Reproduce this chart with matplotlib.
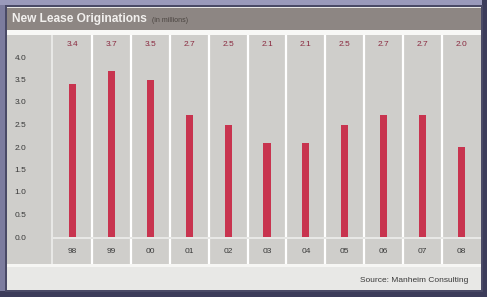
import matplotlib
matplotlib.use("Agg")
import matplotlib.pyplot as plt
from matplotlib.patches import Rectangle

years = ['98', '99', '00', '01', '02', '03', '04', '05', '06', '07', '08']
values = [3.4, 3.7, 3.5, 2.7, 2.5, 2.1, 2.1, 2.5, 2.7, 2.7, 2.0]
yticks = [0.0, 0.5, 1.0, 1.5, 2.0, 2.5, 3.0, 3.5, 4.0]
title = "New Lease Originations"
subtitle = "(in millions)"
source = "Source: Manheim Consulting"

W, H = 487, 297
fig = plt.figure(figsize=(W / 100, H / 100), dpi=100)
fig.patch.set_facecolor('#7c7c9e')
FONT = ['Liberation Sans Narrow', 'Liberation Sans', 'DejaVu Sans']

def rect(x0, y0, x1, y1, color, z=0):
    fig.patches.append(Rectangle((x0 / W, 1 - y1 / H), (x1 - x0) / W, (y1 - y0) / H,
                                 transform=fig.transFigure, facecolor=color,
                                 edgecolor='none', zorder=z))

def axes_px(x0, y0, x1, y1):
    a = fig.add_axes([x0 / W, 1 - y1 / H, (x1 - x0) / W, (y1 - y0) / H])
    a.set_zorder(10)
    return a

# frame
rect(0, 0, 487, 5, '#9a9abb')
rect(482, 0, 487, 297, '#3c3c5a')
rect(0, 291, 487, 297, '#3c3c5a')
rect(5, 5, 483, 292, '#4a4a66')
rect(7, 7, 481, 290, '#e8e8e6')
rect(7, 264, 481, 267, '#f6f6f4')
# header
rect(7, 8, 481, 30, '#8d8683')
rect(7, 30, 481, 35, '#f8f8f6')
# left cell
rect(7, 35, 51, 264, '#cfcecb')

fig.text(12 / W, 1 - 19 / H, title, family=FONT, weight='bold', fontsize=8.6,
         color='#f2f0ee', va='center', ha='left')
fig.text(152 / W, 1 - 20 / H, subtitle, family=FONT, fontsize=5,
         color='#4a4440', va='center', ha='left')
fig.text(468 / W, 1 - 281 / H, source, family=FONT, fontsize=6,
         color='#3a3a3a', va='center', ha='right')

n = len(years)
ymax = (237 - 35) / 45.0

ax = axes_px(53, 35, 481, 237)
ax.set_facecolor('#cfcecb')
ax.bar(range(n), values, width=0.18, color='#c8344f', zorder=3)
for i, v in enumerate(values):
    ax.text(i, (237 - 44) / 45.0, f"{v:.1f}", ha='center', va='center',
            family=FONT, fontsize=6, color='#8a2a40')
for k in range(1, n):
    ax.axvline(k - 0.5, color='white', lw=1.6, zorder=2)
ax.set_xlim(-0.5, n - 0.5)
ax.set_ylim(0, ymax)
ax.set_xticks([])
ax.set_yticks(yticks)
ax.set_yticklabels([f"{t:.1f}" for t in yticks], family=FONT, fontsize=6, color='#3a3a3a')
ax.tick_params(axis='y', length=0, pad=19)
for s in ax.spines.values():
    s.set_visible(False)

ax2 = axes_px(53, 239, 481, 264)
ax2.set_facecolor('#cfcecb')
for i, y in enumerate(years):
    ax2.text(i, 0.5, y, ha='center', va='center', family=FONT, fontsize=6, color='#3a3a3a')
for k in range(1, n):
    ax2.axvline(k - 0.5, color='white', lw=1.6)
ax2.set_xlim(-0.5, n - 0.5)
ax2.set_ylim(0, 1)
ax2.set_xticks([])
ax2.set_yticks([])
for s in ax2.spines.values():
    s.set_visible(False)

fig.savefig('out.png', dpi=100, facecolor=fig.get_facecolor())
